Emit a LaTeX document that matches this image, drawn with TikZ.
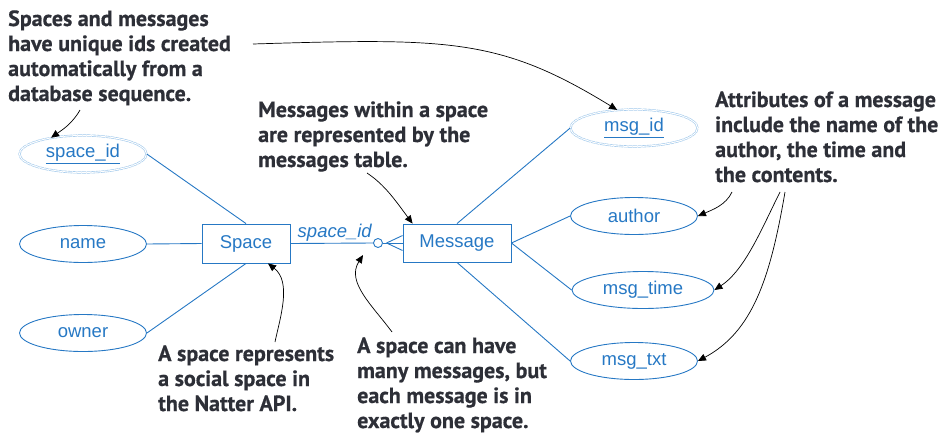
\documentclass[tikz,border=0pt]{standalone}
\usepackage{fontspec}
\setmainfont{Liberation Sans}
\newfontfamily\notefont[BoldFeatures={FakeBold=0.6}]{PT Sans}
\usetikzlibrary{arrows.meta,shapes.geometric,calc}

\definecolor{erblue}{RGB}{38,120,196}
\definecolor{keyblue}{RGB}{160,200,235}
\definecolor{notegray}{RGB}{45,47,55}

\begin{document}
\begin{tikzpicture}[x=1pt,y=-1pt,
  attr/.style={ellipse, draw=erblue, line width=0.9pt, minimum width=127pt,
    minimum height=37pt, inner sep=0pt, text=erblue, font=\fontsize{18.5}{20}\selectfont},
  keyattr/.style={attr, draw=keyblue, double=white, double distance=1pt,
    line width=0.6pt, dash pattern=on 4pt off 0.7pt},
  entity/.style={rectangle, draw=erblue, line width=0.9pt, inner sep=0pt,
    text=erblue, font=\fontsize{18.5}{20}\selectfont},
  link/.style={draw=erblue, line width=0.9pt},
  % base anchor of a multi-line note sits on its last line
  note/.style={anchor=base west, inner sep=0pt, align=left, text=notegray,
    font=\notefont\bfseries\fontsize{22}{25}\selectfont},
  callout/.style={draw=black, line width=0.7pt,
    -{Triangle[length=8pt,width=7pt]}}
]
\useasboundingbox (0,0) rectangle (941,434);

% attributes of a space
\node[keyattr] (spaceid) at (83,154) {\underline{space\_id}};
\node[attr] (name) at (83,244) {name};
\node[attr] (owner) at (83,333) {owner};

% entities
\node[entity, minimum width=88pt, minimum height=39pt] (space) at (246,243.5) {Space};
\node[entity, minimum width=108pt, minimum height=38pt] (message) at (457,243) {Message};

% attributes of a message
\node[keyattr] (msgid) at (634,128) {\underline{msg\_id}};
\node[attr] (author) at (634,216) {author};
\node[attr, minimum width=142pt] (msgtime) at (643,290) {msg\_time};
\node[attr] (msgtxt) at (634,361) {msg\_txt};

% attribute links
\draw[link] (spaceid.east) -- (space.north);
\draw[link] (name.east) -- (space.west);
\draw[link] (owner.east) -- (space.south);
\draw[link] (message.north) -- (msgid.west);
\draw[link] (message.east) -- (author.west);
\draw[link] (message.east) -- (msgtime.west);
\draw[link] (message.south) -- (msgtxt.west);

% one-to-many relationship: zero-or-many crow's foot at Message
\node[circle, draw=erblue, line width=0.9pt, minimum size=9pt, inner sep=0pt] (opt) at (378,243) {};
\draw[link] (space.east) -- node[above=-2pt, xshift=3pt, text=erblue,
    font=\fontsize{18.5}{20}\selectfont\itshape] {space\_id} (opt.west);
\draw[link] (opt.east) -- (message.west);
\coordinate (foot) at ($(message.west)+(-16,0)$);
\draw[link] (foot) -- ($(message.west)+(0,-7.5)$);
\draw[link] (foot) -- ($(message.west)+(0,7.5)$);

% annotations
\node[note] (n1) at (8,101) {Spaces and messages\\have unique ids created\\automatically from a\\database sequence.};
\node[note] (n2) at (258,167) {Messages within a space\\are represented by the\\messages table.};
\node[note] (n3) at (715,182) {Attributes of a message\\include the name of the\\author, the time and\\the contents.};
\node[note] (n4) at (158,411) {A space represents\\a social space in\\the Natter API.};
\node[note] (n5) at (357,428) {A space can have\\many messages, but\\each message is in\\exactly one space.};

% callout arrows
\coordinate (c1) at (253,44);
\draw[callout] (c1) .. controls (450,38) and (500,38) .. (msgid.133);
\coordinate (c2) at (80,110);
\draw[callout] (c2) .. controls (72,124) and (62,130) .. (spaceid.153);
\coordinate (c3) at (367,173);
\draw[callout] (c3) .. controls (385,185) and (395,200) .. ($(message.north west)+(10,0)$);
\coordinate (c4) at (275,342);
\draw[callout] (c4) .. controls (280,318) and (292,282) .. ($(space.south)+(22,0)$);
\coordinate (c5) at (392,332);
\draw[callout] (c5) .. controls (372,305) and (346,282) .. ($(opt)+(-15,12)$);
\coordinate (c6) at (732,192);
\draw[callout] (c6) .. controls (726,205) and (712,210) .. (author.east);
\coordinate (c7) at (780,192);
\draw[callout] (c7) .. controls (762,228) and (745,270) .. (msgtime.east);
\coordinate (c8) at (785,192);
\draw[callout] (c8) .. controls (770,280) and (752,332) .. (msgtxt.east);
\end{tikzpicture}
\end{document}
